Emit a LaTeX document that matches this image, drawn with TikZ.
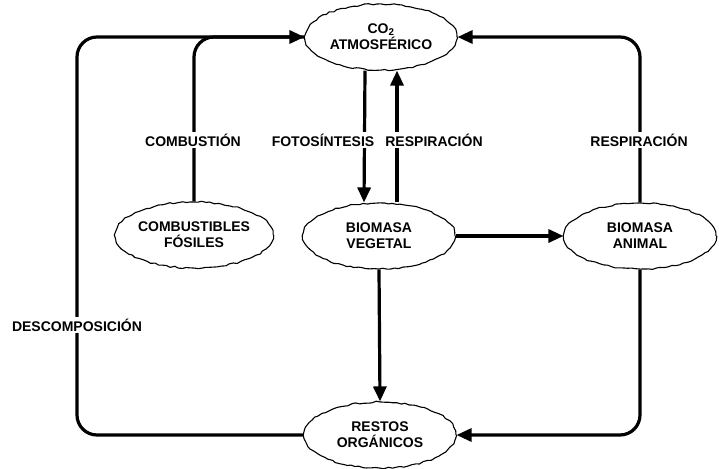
\documentclass[tikz,border=0pt]{standalone}
\usepackage{fontspec}
\setmainfont{Liberation Sans}
\usetikzlibrary{shapes.geometric,arrows.meta,decorations.pathmorphing}
\begin{document}
\begin{tikzpicture}[x=1pt,y=-1pt,
  blob/.style={ellipse, draw, line width=1.1pt, fill=white, inner sep=0pt,
    minimum width=152pt, minimum height=66pt, align=center,
    font=\fontsize{14}{16}\selectfont\bfseries,
    decorate, decoration={random steps, segment length=4pt, amplitude=0.8pt}},
  flow/.style={line width=3.2pt, -{Triangle[length=15pt,width=13pt]}},
  plain/.style={line width=3.2pt},
  lbl/.style={fill=white, inner sep=2pt, font=\fontsize{14}{16}\selectfont\bfseries}]
\useasboundingbox (0,0) rectangle (719,468);
\pgfmathsetseed{7}
\node[blob] (co2) at (381,37) {CO\textsubscript{2}\\ATMOSFÉRICO};
\node[blob] (comb) at (194,235) {COMBUSTIBLES\\FÓSILES};
\node[blob] (veg) at (379,236) {BIOMASA\\VEGETAL};
\node[blob] (ani) at (640,236) {BIOMASA\\ANIMAL};
\node[blob] (res) at (380,435) {RESTOS\\ORGÁNICOS};
% descomposicion
\draw[flow, rounded corners=20pt] (res.west) -| (77,200) |- (co2.west);
% combustion
\draw[plain, rounded corners=20pt] (comb.north) |- (co2.west);
% right respiracion
\draw[flow, rounded corners=20pt] (ani.north) |- (co2.east);
% fotosintesis / respiracion
\draw[flow] ([xshift=-16pt]co2.south) -- ([xshift=-15pt]veg.north);
\draw[flow] ([xshift=18pt]veg.north) -- ([xshift=16pt]co2.south);
% vegetal -> animal
\draw[flow] (veg.east) -- (ani.west);
% vegetal -> restos
\draw[flow] (veg.south) -- (res.north);
% animal -> restos
\draw[flow, rounded corners=20pt] (ani.south) |- (res.east);
% labels
\node[lbl] (l1) at (193,140) {COMBUSTIÓN};
\node[lbl] (l2) at (323,140) {FOTOSÍNTESIS};
\node[lbl] (l3) at (434,140) {RESPIRACIÓN};
\node[lbl] (l4) at (639,140) {RESPIRACIÓN};
\node[lbl] (l5) at (77,325) {DESCOMPOSICIÓN};
\end{tikzpicture}
\end{document}
